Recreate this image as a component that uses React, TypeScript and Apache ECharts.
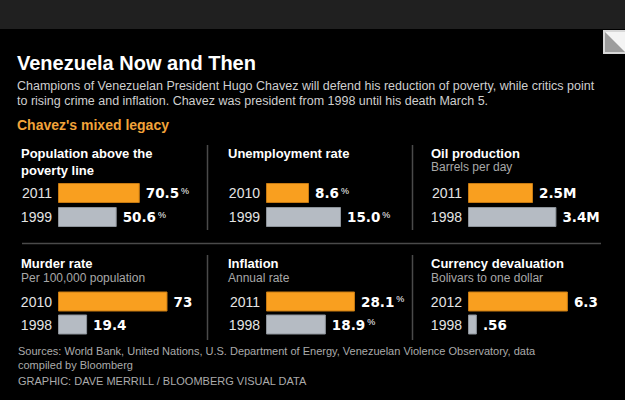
import React, { useEffect, useRef } from "react";
import * as echarts from "echarts";

// ---- data ----
const povertyYears = ["2011", "1999"];
const povertyValues = [70.5, 50.6];
const unemploymentYears = ["2010", "1999"];
const unemploymentValues = [8.6, 15.0];
const oilYears = ["2011", "1998"];
const oilValues = [2.5, 3.4];
const murderYears = ["2010", "1998"];
const murderValues = [73, 19.4];
const inflationYears = ["2011", "1998"];
const inflationValues = [28.1, 18.9];
const currencyYears = ["2012", "1998"];
const currencyValues = [6.3, 0.56];

const ORANGE = "#f99f1f";
const GRAY = "#b5bbc3";
const SANS = "Liberation Sans, Arial, sans-serif";
const NUM = "DejaVu Sans, sans-serif";

type Panel = {
  years: string[];
  values: number[];
  titles: string[];
  sub?: string;
  unit: string;
  sup: boolean;
  fmt: (v: number) => string;
  textX: number;
  barX: number;
  barW: number;
  max: number;
  row: number;
};

const panels: Panel[] = [
  { years: povertyYears, values: povertyValues, titles: ["Population above the", "poverty line"], unit: "%", sup: true, fmt: (v) => v.toFixed(1), textX: 21, barX: 58, barW: 116, max: 100, row: 0 },
  { years: unemploymentYears, values: unemploymentValues, titles: ["Unemployment rate"], unit: "%", sup: true, fmt: (v) => v.toFixed(1), textX: 228, barX: 266, barW: 100, max: 20, row: 0 },
  { years: oilYears, values: oilValues, titles: ["Oil production"], sub: "Barrels per day", unit: "M", sup: false, fmt: (v) => v.toFixed(1), textX: 431, barX: 468, barW: 104, max: 4, row: 0 },
  { years: murderYears, values: murderValues, titles: ["Murder rate"], sub: "Per 100,000 population", unit: "", sup: false, fmt: (v) => String(v), textX: 21, barX: 58, barW: 120, max: 80, row: 1 },
  { years: inflationYears, values: inflationValues, titles: ["Inflation"], sub: "Annual rate", unit: "%", sup: true, fmt: (v) => v.toFixed(1), textX: 228, barX: 266, barW: 95, max: 30, row: 1 },
  { years: currencyYears, values: currencyValues, titles: ["Currency devaluation"], sub: "Bolivars to one dollar", unit: "", sup: false, fmt: (v) => String(v).replace(/^0\./, "."), textX: 431, barX: 468, barW: 111, max: 7, row: 1 },
];

const rowLayout = [
  { gridTop: 181, gridH: 48, titleY: 153, lineH: 17, subY: 167 },
  { gridTop: 290, gridH: 46, titleY: 263, lineH: 17, subY: 278 },
];

export default function App() {
  const ref = useRef<HTMLDivElement>(null);
  useEffect(() => {
    document.body.style.margin = "0";
    const chart = echarts.init(ref.current!, null, { renderer: "svg" });

    const grids: any[] = [];
    const xAxes: any[] = [];
    const yAxes: any[] = [];
    const series: any[] = [];
    const graphics: any[] = [];

    graphics.push({ type: "rect", shape: { x: 0, y: 0, width: 625, height: 29 }, style: { fill: "#202020" }, silent: true });
    // corner icon
    graphics.push({ type: "rect", shape: { x: 603, y: 30, width: 24, height: 24 }, style: { fill: "#d8d8d8" }, silent: true });
    graphics.push({ type: "rect", shape: { x: 605, y: 32, width: 22, height: 20 }, style: { fill: "#f4f4f4" }, silent: true });
    graphics.push({ type: "polygon", shape: { points: [[605, 32], [605, 52], [625, 52]] }, style: { fill: "#9c9c9c" }, silent: true });

    const txt = (text: string, x: number, y: number, fill: string, size: number, weight: string, family = SANS) => ({
      type: "text",
      x,
      y,
      silent: true,
      style: { text, fill, fontSize: size, fontWeight: weight, fontFamily: family, verticalAlign: "middle", align: "left" },
    });

    graphics.push(txt("Venezuela Now and Then", 17, 63, "#ffffff", 20, "bold"));
    graphics.push(txt("Champions of Venezuelan President Hugo Chavez will defend his reduction of poverty, while critics point", 17, 86, "#cfcfcf", 12.5, "normal"));
    graphics.push(txt("to rising crime and inflation. Chavez was president from 1998 until his death March 5.", 17, 101, "#cfcfcf", 12.5, "normal"));
    graphics.push(txt("Chavez's mixed legacy", 17, 125, "#f2a33a", 14, "bold"));

    // separators
    const lineStyle = { stroke: "#4a4a4a", lineWidth: 1.5 };
    [207.5, 412.5].forEach((x) => {
      graphics.push({ type: "line", shape: { x1: x, y1: 145, x2: x, y2: 230 }, style: lineStyle, silent: true });
      graphics.push({ type: "line", shape: { x1: x, y1: 255, x2: x, y2: 340 }, style: lineStyle, silent: true });
    });
    graphics.push({ type: "line", shape: { x1: 22, y1: 243.5, x2: 601, y2: 243.5 }, style: lineStyle, silent: true });

    panels.forEach((p, i) => {
      const r = rowLayout[p.row];
      p.titles.forEach((t, k) => graphics.push(txt(t, p.textX, r.titleY + k * r.lineH, "#ffffff", 13, "bold")));
      if (p.sub) graphics.push(txt(p.sub, p.textX, r.subY, "#a8a8a8", 12, "normal"));

      grids.push({ left: p.barX, top: r.gridTop, width: p.barW, height: r.gridH, containLabel: false });
      xAxes.push({ gridIndex: i, type: "value", min: 0, max: p.max, show: false });
      yAxes.push({
        gridIndex: i,
        type: "category",
        data: p.years,
        inverse: true,
        axisLine: { show: false },
        axisTick: { show: false },
        splitLine: { show: false },
        axisLabel: { color: "#e4e4e4", fontSize: 14, fontFamily: SANS, margin: 6 },
      });
      series.push({
        type: "bar",
        xAxisIndex: i,
        yAxisIndex: i,
        barWidth: 20,
        data: p.values.map((v, j) => ({
          value: v,
          itemStyle: {
            color: j === 0 ? ORANGE : GRAY,
            borderColor: j === 0 ? "#c77a12" : "#8d939a",
            borderWidth: 1,
          },
        })),
        label: {
          show: true,
          position: "right",
          distance: 6,
          formatter: (prm: any) => {
            const s = p.fmt(prm.value);
            if (p.sup) return `{v|${s}}{s|${p.unit}}`;
            return `{v|${s}${p.unit}}`;
          },
          rich: {
            v: { color: "#ffffff", fontSize: 13.5, fontWeight: "bold", fontFamily: NUM },
            s: { color: "#ffffff", fontSize: 9, fontFamily: SANS, verticalAlign: "top", padding: [0, 0, 0, 2] },
          },
        },
      });
    });

    graphics.push(txt("Sources: World Bank, United Nations, U.S. Department of Energy, Venezuelan Violence Observatory, data", 18, 351, "#ababab", 11, "normal"));
    graphics.push(txt("compiled by Bloomberg", 18, 365, "#ababab", 11, "normal"));
    graphics.push(txt("GRAPHIC: DAVE MERRILL / BLOOMBERG VISUAL DATA", 18, 381, "#ababab", 11, "normal"));

    chart.setOption({
      animation: false,
      backgroundColor: "#000000",
      grid: grids,
      xAxis: xAxes,
      yAxis: yAxes,
      series,
      graphic: graphics,
    });
    return () => chart.dispose();
  }, []);
  return <div ref={ref} style={{ width: 625, height: 400 }} />;
}
